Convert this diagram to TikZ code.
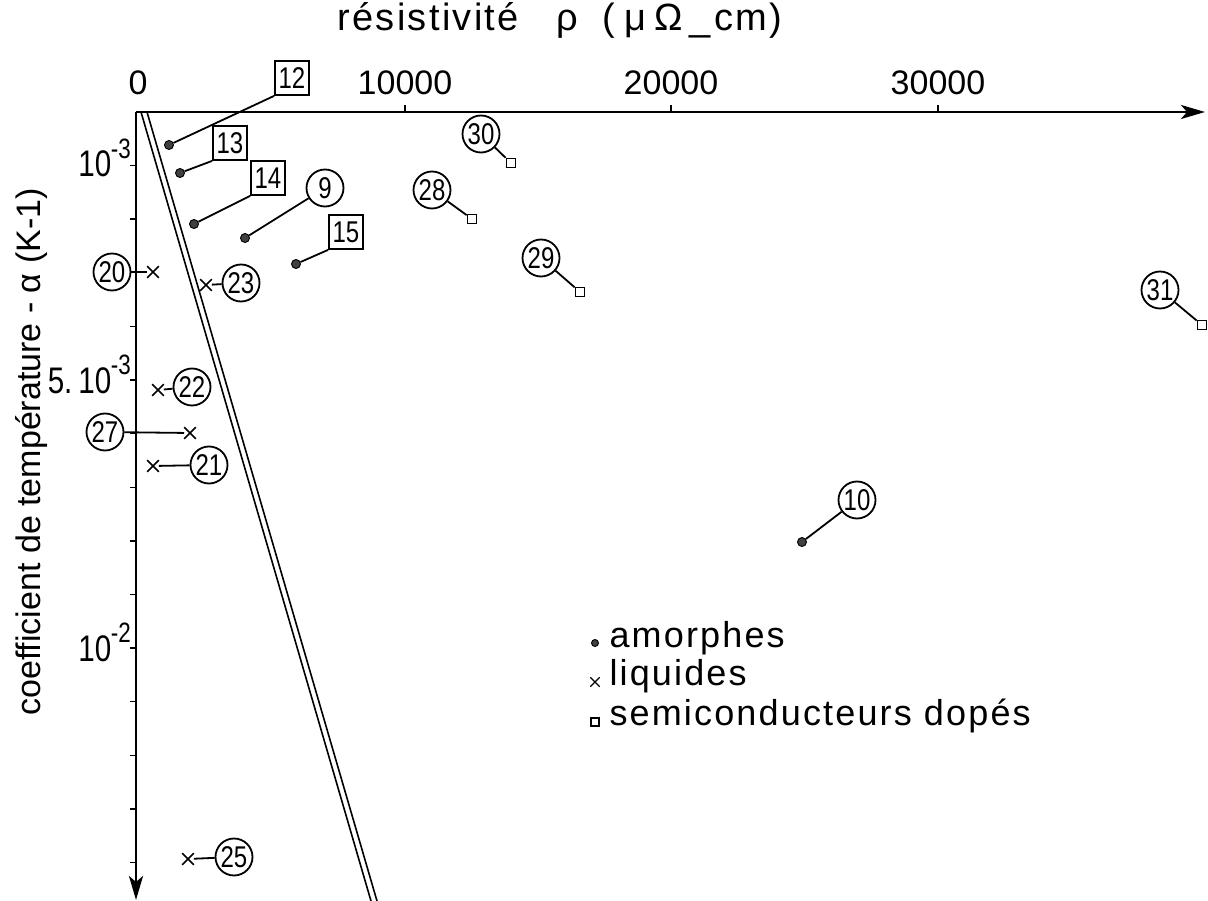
\documentclass[tikz,border=0pt]{standalone}
\usepackage{fontspec}
\setmainfont{Liberation Sans}
\newfontfamily\numfont{Liberation Sans}[FakeStretch=0.8]
\newfontfamily\spacedfont{Liberation Sans}[LetterSpace=6]
\usetikzlibrary{arrows.meta,shapes.misc}
\newcommand\expo[1]{\kern-0.5pt\raisebox{0.5em}{\numfont\fontsize{28}{28}\selectfont #1}}
\begin{document}
\begin{tikzpicture}[x=1pt,y=-1pt,
  axis/.style={line width=2.8pt},
  tick/.style={line width=1.4pt},
  lead/.style={line width=1.8pt},
  amo/.style={circle, fill=black!75, draw=black, line width=0.9pt, minimum size=9pt, inner sep=0pt},
  liq/.style={cross out, draw, line width=1.6pt, minimum size=10pt, inner sep=0pt},
  sc/.style={rectangle, draw, line width=1.7pt, minimum size=9pt, inner sep=0pt},
  lblc/.style={circle, draw, line width=1.8pt, minimum size=37pt, inner sep=0pt, font=\numfont\fontsize{30}{30}\selectfont},
  lblb/.style={rectangle, draw, line width=1.8pt, minimum size=34pt, inner sep=0pt, font=\numfont\fontsize{30}{30}\selectfont},
  txt/.style={font=\fontsize{34}{40}\selectfont},
  ytxt/.style={font=\numfont\fontsize{37}{40}\selectfont, anchor=base east, inner sep=0pt},
  stxt/.style={font=\spacedfont\fontsize{36}{42}\selectfont},
  arr/.style={-{Stealth[length=24pt,width=14pt,inset=6pt]}}
]
\useasboundingbox (0,0) rectangle (1208,901);
\fill[white] (0,0) rectangle (1208,901);

% axes
\coordinate (O) at (136,112);
\coordinate (xend) at (1205,112);
\coordinate (yend) at (136,900);
\draw[axis,arr] (O) -- (xend);
\draw[axis,arr] (O) -- (yend);
\foreach \k in {1,...,14} \draw[tick] (136,{112+53.6*\k}) -- ++(-6,0);
\foreach \x in {405,671,938} \draw[tick] (\x,112) -- ++(0,-7);

% axis labels
\node[stxt, font=\spacedfont\fontsize{38}{44}\selectfont] (title) at (560,20) {résistivité\hspace{38pt}ρ\hspace{24pt}(\hspace{9pt}μ\hspace{9pt}Ω\hspace{6pt}\_\hspace{4pt}cm)};
\node[txt] (t0) at (138,83) {0};
\node[txt] (t1) at (405,83) {10000};
\node[txt] (t2) at (671,83) {20000};
\node[txt] (t3) at (938,83) {30000};
\node[ytxt] (y1) at (131,177) {10\expo{-3}};
\node[ytxt] (y5) at (131,393) {5.\hspace{6pt}10\expo{-3}};
\node[ytxt] (y10) at (131,661) {10\expo{-2}};
\node[txt, rotate=90, anchor=base] (ylab) at (40,452) {coefficient de température - α (K-1)};

% double line
\coordinate (La) at (141,112);
\coordinate (Lb) at (371,901);
\coordinate (Ma) at (147,112);
\coordinate (Mb) at (377,901);
\draw[line width=1.6pt] (La) -- (Lb);
\draw[line width=1.6pt] (Ma) -- (Mb);

% amorphes
\node[amo] (d12) at (169,145) {};
\node[lblb] (b12) at (292,78) {12};
\draw[lead] (d12) -- (b12.south west);
\node[amo] (d13) at (180,173) {};
\node[lblb] (b13) at (230,143) {13};
\draw[lead] (d13) -- (b13.south west);
\node[amo] (d14) at (194,224) {};
\node[lblb] (b14) at (268,178) {14};
\draw[lead] (d14) -- (b14.south west);
\node[amo] (d9) at (245,238) {};
\node[lblc] (c9) at (325,188) {9};
\draw[lead] (d9) -- (c9);
\node[amo] (d15) at (296,264) {};
\node[lblb] (b15) at (346,232) {15};
\draw[lead] (d15) -- (b15.south west);
\node[amo] (d10) at (802,542) {};
\node[lblc] (c10) at (857,500) {10};
\draw[lead] (d10) -- (c10);

% liquides
\node[liq] (x20) at (153,272) {};
\node[lblc] (c20) at (112,272) {20};
\draw[lead] (c20) -- (x20);
\node[liq] (x23) at (206,285) {};
\node[lblc] (c23) at (241,283) {23};
\draw[lead] (x23) -- (c23);
\node[liq] (x22) at (158,390) {};
\node[lblc] (c22) at (192,387) {22};
\draw[lead] (x22) -- (c22);
\node[liq] (x27) at (190,433) {};
\node[lblc] (c27) at (105,432) {27};
\draw[lead] (c27) -- (x27);
\node[liq] (x21) at (153,466) {};
\node[lblc] (c21) at (209,465) {21};
\draw[lead] (x21) -- (c21);
\node[liq] (x25) at (188,859) {};
\node[lblc] (c25) at (234,857) {25};
\draw[lead] (x25) -- (c25);

% semiconducteurs
\node[sc] (s30) at (511,163) {};
\node[lblc] (c30) at (481,134) {30};
\draw[lead] (c30) -- (s30);
\node[sc] (s28) at (472,219) {};
\node[lblc] (c28) at (432,190) {28};
\draw[lead] (c28) -- (s28);
\node[sc] (s29) at (580,292) {};
\node[lblc] (c29) at (541,258) {29};
\draw[lead] (c29) -- (s29);
\node[sc] (s31) at (1202,325) {};
\node[lblc] (c31) at (1160,290) {31};
\draw[lead] (c31) -- (s31);

% legend
\node[amo, minimum size=7pt] (la) at (595,643) {};
\node[stxt, anchor=west] (ta) at (606,638) {amorphes};
\node[liq, minimum size=8pt, line width=1.4pt] (lb) at (595,682) {};
\node[stxt, anchor=west] (tb) at (606,676) {liquides};
\node[sc, minimum size=8pt, line width=1.4pt] (lc) at (595,722) {};
\node[stxt, anchor=west] (tc) at (606,716) {semiconducteurs dopés};
\end{tikzpicture}
\end{document}
